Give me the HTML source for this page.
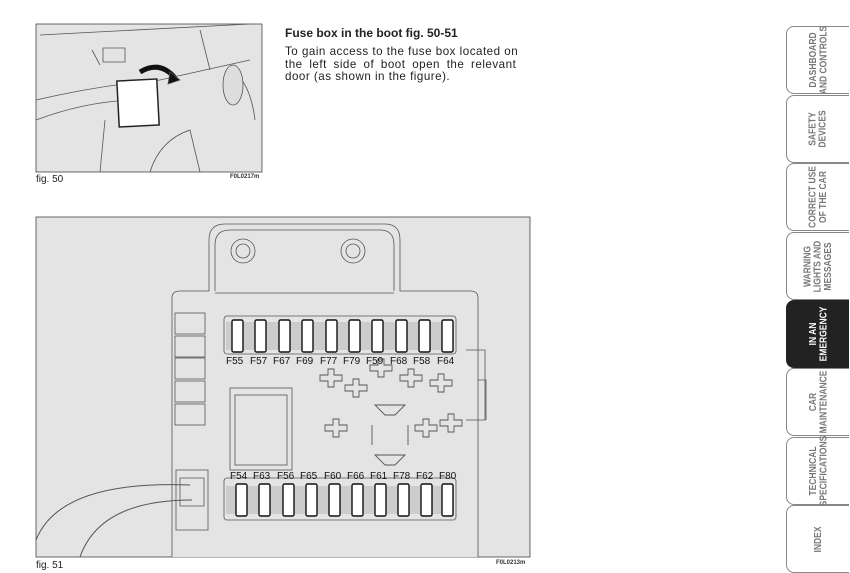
<!DOCTYPE html>
<html><head><meta charset="utf-8"><style>
body{margin:0;width:850px;height:571px;background:#fff;position:relative;overflow:hidden;font-family:"Liberation Sans",sans-serif}
.t{position:absolute;left:285px;top:26px;width:245px;color:#222}
h1{font-size:12px;font-weight:bold;margin:0 0 6px}
p{font-size:11.6px;line-height:12.5px;margin:0;white-space:nowrap;letter-spacing:0.5px}
.cap{position:absolute;font-size:10px;color:#222}
.code{position:absolute;font-size:6px;font-weight:bold;color:#333}
.tab{position:absolute;left:786px;width:62px;height:66px;border:1.5px solid #888;border-right:none;border-radius:8px 0 0 8px;background:#fff;display:flex;align-items:center;justify-content:center}
.tab span{transform:rotate(-90deg) scaleY(1.15);font-family:"Liberation Sans Narrow","Liberation Sans",sans-serif;font-weight:bold;font-size:8.5px;line-height:9px;color:#777;text-align:center;white-space:nowrap}
.tab.on{background:#222;border-color:#222}
.tab.on span{color:#fff}
</style></head><body>
<svg width="850" height="571" style="position:absolute;left:0;top:0">
<g stroke="#555" fill="none" stroke-width="0.8">
<rect x="36" y="24" width="226" height="148" fill="#e4e4e4" stroke="#444"/>
<path d="M36 100 Q100 85 160 80 L250 60 M36 120 Q90 100 140 100 M100 172 L105 120 M150 172 Q160 140 190 130 L200 172 M230 70 Q250 80 255 120"/>
<path d="M40 35 L250 24 M200 30 L210 70 M92 50 L100 65 M103 48 h22 v14 h-22z"/>
<rect x="118" y="80" width="40" height="46" fill="#fff" stroke="#222" stroke-width="1.5" transform="rotate(-3 138 103)"/>
<path d="M140 72 Q160 60 175 78" stroke="#111" stroke-width="5"/>
<path d="M170 72 L180 80 L168 84z" fill="#111"/>
<ellipse cx="233" cy="85" rx="10" ry="20" fill="#ddd"/>
<rect x="36" y="217" width="494" height="340" fill="#e4e4e4" stroke="#444"/>
<path d="M172 557 V298 Q172 291 180 291 H209 V240 Q209 224 225 224 H385 Q400 224 400 240 V291 H470 Q478 291 478 298 V557" fill="#e4e4e4"/>
<path d="M215 291 V245 Q215 230 230 230 H380 Q394 230 394 245 V291 M215 293 H394"/>
<circle cx="243" cy="251" r="12"/><circle cx="243" cy="251" r="7"/>
<circle cx="353" cy="251" r="12"/><circle cx="353" cy="251" r="7"/>
<g fill="#e4e4e4"><rect x="175" y="313" width="30" height="21"/><rect x="175" y="336" width="30" height="21"/><rect x="175" y="358" width="30" height="21"/><rect x="175" y="381" width="30" height="21"/><rect x="175" y="404" width="30" height="21"/></g>
<rect x="224" y="316" width="232" height="38" rx="3"/>
<rect x="224" y="478" width="232" height="42" rx="3"/>
<rect x="235" y="395" width="52" height="70"/><rect x="230" y="388" width="62" height="82"/>
<path d="M176 470 h32 v60 h-32z M180 478 h24 v28 h-24z"/>
<path d="M36 540 Q60 480 190 485 M80 557 Q100 500 192 500" stroke-width="1"/>
<path d="M466 350 H485 V420 H466 M478 380 h8 v40"/>
<g stroke-width="0.9">
<path d="M345 385 h8 v-6 h6 v6 h8 v6 h-8 v6 h-6 v-6 h-8z M320 375 h8 v-6 h6 v6 h8 v6 h-8 v6 h-6 v-6 h-8z M400 375 h8 v-6 h6 v6 h8 v6 h-8 v6 h-6 v-6 h-8z M430 380 h8 v-6 h6 v6 h8 v6 h-8 v6 h-6 v-6 h-8z M325 425 h8 v-6 h6 v6 h8 v6 h-8 v6 h-6 v-6 h-8z M415 425 h8 v-6 h6 v6 h8 v6 h-8 v6 h-6 v-6 h-8z M440 420 h8 v-6 h6 v6 h8 v6 h-8 v6 h-6 v-6 h-8z M370 365 h8 v-6 h6 v6 h8 v6 h-8 v6 h-6 v-6 h-8z"/>
<path d="M375 405 H405 L395 415 H385z M375 455 H405 L395 465 H385z M372 425 v20 M408 425 v20"/>
</g>
</g>
<rect x="226" y="322" width="228" height="28" fill="#ccc"/>
<rect x="226" y="486" width="228" height="28" fill="#ccc"/>
<g fill="#fff" stroke="#111" stroke-width="1.4">
<rect x="232" y="320" width="11" height="32" rx="1.5"/><rect x="255" y="320" width="11" height="32" rx="1.5"/><rect x="279" y="320" width="11" height="32" rx="1.5"/><rect x="302" y="320" width="11" height="32" rx="1.5"/><rect x="326" y="320" width="11" height="32" rx="1.5"/><rect x="349" y="320" width="11" height="32" rx="1.5"/><rect x="372" y="320" width="11" height="32" rx="1.5"/><rect x="396" y="320" width="11" height="32" rx="1.5"/><rect x="419" y="320" width="11" height="32" rx="1.5"/><rect x="442" y="320" width="11" height="32" rx="1.5"/>
<rect x="236" y="484" width="11" height="32" rx="1.5"/><rect x="259" y="484" width="11" height="32" rx="1.5"/><rect x="283" y="484" width="11" height="32" rx="1.5"/><rect x="306" y="484" width="11" height="32" rx="1.5"/><rect x="329" y="484" width="11" height="32" rx="1.5"/><rect x="352" y="484" width="11" height="32" rx="1.5"/><rect x="375" y="484" width="11" height="32" rx="1.5"/><rect x="398" y="484" width="11" height="32" rx="1.5"/><rect x="421" y="484" width="11" height="32" rx="1.5"/><rect x="442" y="484" width="11" height="32" rx="1.5"/>
</g>
<g font-family="Liberation Sans,sans-serif" font-size="10" fill="#111">
<text x="226" y="364">F55</text><text x="250" y="364">F57</text><text x="273" y="364">F67</text><text x="296" y="364">F69</text><text x="320" y="364">F77</text><text x="343" y="364">F79</text><text x="366" y="364">F59</text><text x="390" y="364">F68</text><text x="413" y="364">F58</text><text x="437" y="364">F64</text>
<text x="230" y="479">F54</text><text x="253" y="479">F63</text><text x="277" y="479">F56</text><text x="300" y="479">F65</text><text x="324" y="479">F60</text><text x="347" y="479">F66</text><text x="370" y="479">F61</text><text x="393" y="479">F78</text><text x="416" y="479">F62</text><text x="439" y="479">F80</text>
</g>
</svg>
<div class="t"><h1>Fuse box in the boot fig. 50-51</h1><p>To gain access to the fuse box located on<br><span style="word-spacing:3px">the left side of boot open the relevant</span><br>door (as shown in the figure).</p></div>
<div class="cap" style="left:36px;top:174px">fig. 50</div>
<div class="code" style="left:230px;top:174px">F0L0217m</div>
<div class="cap" style="left:36px;top:560px">fig. 51</div>
<div class="code" style="left:496px;top:560px">F0L0213m</div>
<div class="tab" style="top:26px"><span>DASHBOARD<br>AND CONTROLS</span></div>
<div class="tab" style="top:95px"><span>SAFETY<br>DEVICES</span></div>
<div class="tab" style="top:163px"><span>CORRECT USE<br>OF THE CAR</span></div>
<div class="tab" style="top:232px"><span>WARNING<br>LIGHTS AND<br>MESSAGES</span></div>
<div class="tab on" style="top:300px"><span>IN AN<br>EMERGENCY</span></div>
<div class="tab" style="top:368px"><span>CAR<br>MAINTENANCE</span></div>
<div class="tab" style="top:437px"><span>TECHNICAL<br>SPECIFICATIONS</span></div>
<div class="tab" style="top:505px"><span>INDEX</span></div>
</body></html>
